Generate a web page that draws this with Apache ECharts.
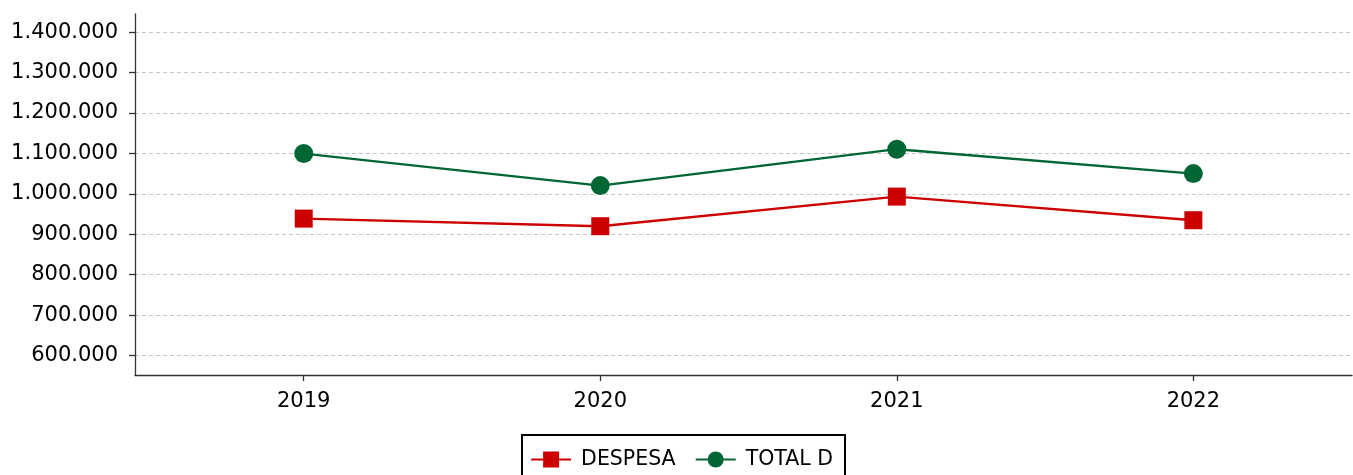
<!DOCTYPE html>
<html>
<head>
<meta charset="utf-8">
<script src="https://cdn.jsdelivr.net/npm/echarts@6/dist/echarts.min.js"></script>
<style>
html,body{margin:0;padding:0;background:#fff;}
#c{width:1353px;height:475px;}
</style>
</head>
<body>
<div id="c"></div>
<script>
const years = [2019, 2020, 2021, 2022];
const despesa = [938900, 920100, 993300, 934900];
const totalD = [1099700, 1020500, 1110600, 1050200];
const yTicks = [600000, 700000, 800000, 900000, 1000000, 1100000, 1200000, 1300000, 1400000];
const seriesNames = ['DESPESA', 'TOTAL D'];

function fmt(v) {
  return String(Math.round(v)).replace(/\B(?=(\d{3})+(?!\d))/g, '.');
}

const chart = echarts.init(document.getElementById('c'), null, {renderer: 'canvas'});
const font = 'DejaVu Sans';
chart.setOption({
  animation: false,
  backgroundColor: '#fff',
  textStyle: {fontFamily: font},
  grid: {left: 135, right: 1, top: 14, bottom: 100, containLabel: false},
  xAxis: {
    type: 'value',
    min: 2018.431,
    max: 2022.535,
    axisLine: {show: true, lineStyle: {color: '#333', width: 1.3}},
    axisTick: {show: true, customValues: years, length: 6, lineStyle: {color: '#333', width: 1.3}},
    axisLabel: {customValues: years, color: '#000', fontSize: 21, fontFamily: font, margin: 16, formatter: v => String(v)},
    splitLine: {show: false}
  },
  yAxis: {
    type: 'value',
    min: 552000,
    max: 1445000,
    axisLine: {show: true, lineStyle: {color: '#333', width: 1.3}},
    axisTick: {show: true, customValues: yTicks, length: 6, lineStyle: {color: '#333', width: 1.3}},
    axisLabel: {customValues: yTicks, color: '#000', fontSize: 21, fontFamily: font, margin: 17, formatter: v => fmt(v)},
    splitLine: {show: true, lineStyle: {color: '#c8c8c8', type: [4, 3], width: 1}}
  },
  legend: {
    left: 522,
    top: 435,
    orient: 'horizontal',
    borderColor: '#000',
    borderWidth: 2,
    padding: [14, 12, 12, 8],
    itemWidth: 40,
    itemHeight: 20,
    itemGap: 19,
    lineStyle: {width: 2.2},
    textStyle: {fontSize: 20.5, color: '#000', fontFamily: font, padding: [0, 0, 0, 5]},
    data: seriesNames
  },
  series: [
    {
      name: seriesNames[0],
      type: 'line',
      data: years.map((y, i) => [y, despesa[i]]),
      symbol: 'rect',
      symbolSize: 18,
      lineStyle: {color: '#cc0000', width: 2.4},
      itemStyle: {color: '#cc0000'}
    },
    {
      name: seriesNames[1],
      type: 'line',
      data: years.map((y, i) => [y, totalD[i]]),
      symbol: 'circle',
      symbolSize: 19,
      lineStyle: {color: '#006633', width: 2.4},
      itemStyle: {color: '#006633'}
    }
  ]
});
</script>
</body>
</html>
